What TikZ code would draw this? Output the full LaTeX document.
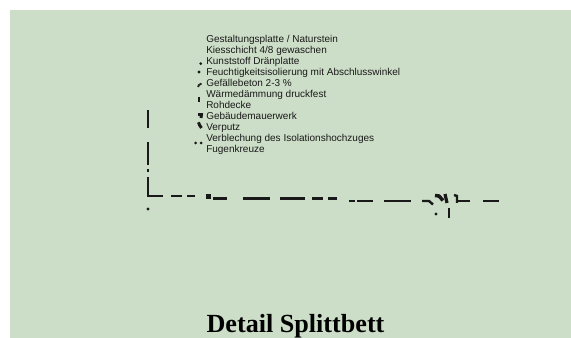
\documentclass[tikz,border=0pt]{standalone}
\usepackage{fontspec}
\setmainfont{Liberation Serif}
\newfontfamily\lblfont{Liberation Sans}
\definecolor{bgc}{HTML}{CDDEC8}
\tikzset{
  lbl/.style={anchor=base west,inner sep=0pt,font=\lblfont\fontsize{7.5pt}{8pt}\selectfont,text=black!90},
  ttl/.style={anchor=base,inner sep=0pt,font=\fontsize{19.6pt}{22pt}\selectfont\bfseries},
  ln/.style={line width=1.8pt,black!90,line cap=butt},
  thin ln/.style={line width=1.4pt,black!85},
  dotm/.style={black!90}
}
\begin{document}
\begin{tikzpicture}[x=0.75pt,y=-0.75pt]
\useasboundingbox (0,0) rectangle (571,338);
\fill[white] (0,0) rectangle (571,338);
\fill[bgc] (10,10) rectangle (571,338);
% labels
\node[lbl] (t1) at (206,42.5) {Gestaltungsplatte / Naturstein};
\node[lbl] (t2) at (206,53.5) {Kiesschicht 4/8 gewaschen};
\node[lbl] (t3) at (206,64.5) {Kunststoff Dränplatte};
\node[lbl] (t4) at (206,75.5) {Feuchtigkeitsisolierung mit Abschlusswinkel};
\node[lbl] (t5) at (206,86.5) {Gefällebeton 2-3 \%};
\node[lbl] (t6) at (206,97.5) {Wärmedämmung druckfest};
\node[lbl] (t7) at (206,108.5) {Rohdecke};
\node[lbl] (t8) at (206,119.5) {Gebäudemauerwerk};
\node[lbl] (t9) at (206,130.5) {Verputz};
\node[lbl] (t10) at (206,141.5) {Verblechung des Isolationshochzuges};
\node[lbl] (t11) at (206,152.5) {Fugenkreuze};
\node[ttl] (title) at (295.5,332) {Detail Splittbett};
% wall
\draw[ln] (148,110) -- (148,128);
\draw[ln] (148,142) -- (148,165);
\draw[ln] (148,169) -- (148,172);
\draw[ln] (148,177) -- (148,196) -- (163,196);
\fill[dotm] (148,209) circle (1.6);
% slab dashes
\draw[ln] (171,196) -- (182,196);
\draw[ln] (187,196) -- (195,196);
\fill[dotm] (205.5,194.5) rectangle (210.5,199.5);
\draw[ln] (213,198.5) -- (227,198.5);
\draw[ln] (243,198.5) -- (270,198.5);
\draw[ln] (280,198.5) -- (305,198.5);
\draw[ln] (312,198.5) -- (323,198.5);
\draw[ln] (328,198.5) -- (337,198.5);
\draw[ln] (349,201) -- (355,201);
\draw[ln] (357,201) -- (373,201);
\draw[ln] (384,201) -- (411,201);
\draw[ln] (422,201) -- (429,201) -- (433,204.5);
\draw[line width=2.6pt,black!90] (435,195.5) -- (439,196) -- (443,200.5);
\draw[line width=2.4pt,black!90] (445,194) -- (447,203);
\draw[ln] (454,195) -- (457,196) -- (457,203);
\draw[ln] (457,201) -- (470,201);
\draw[ln] (483,201) -- (499,201);
\draw[ln] (449,208) -- (449,218);
\fill[dotm] (436,214) circle (1.6);
% small marks
\fill[dotm] (200.7,63.7) circle (1.5);
\fill[dotm] (199,72) circle (1.7);
\draw[thin ln] (198,87) -- (199,85) -- (201.5,83.5);
\draw[line width=2.2pt,black!90] (199,97) -- (199,102);
\draw[line width=2.2pt,black!90] (198,114.5) -- (201.5,114.5) -- (201,118);
\draw[line width=2.2pt,black!90] (198.5,122.3) -- (199.5,125) -- (201.5,128);
\fill[dotm] (195.7,143) circle (1.5);
\fill[dotm] (201,143) circle (1.5);
\end{tikzpicture}
\end{document}
